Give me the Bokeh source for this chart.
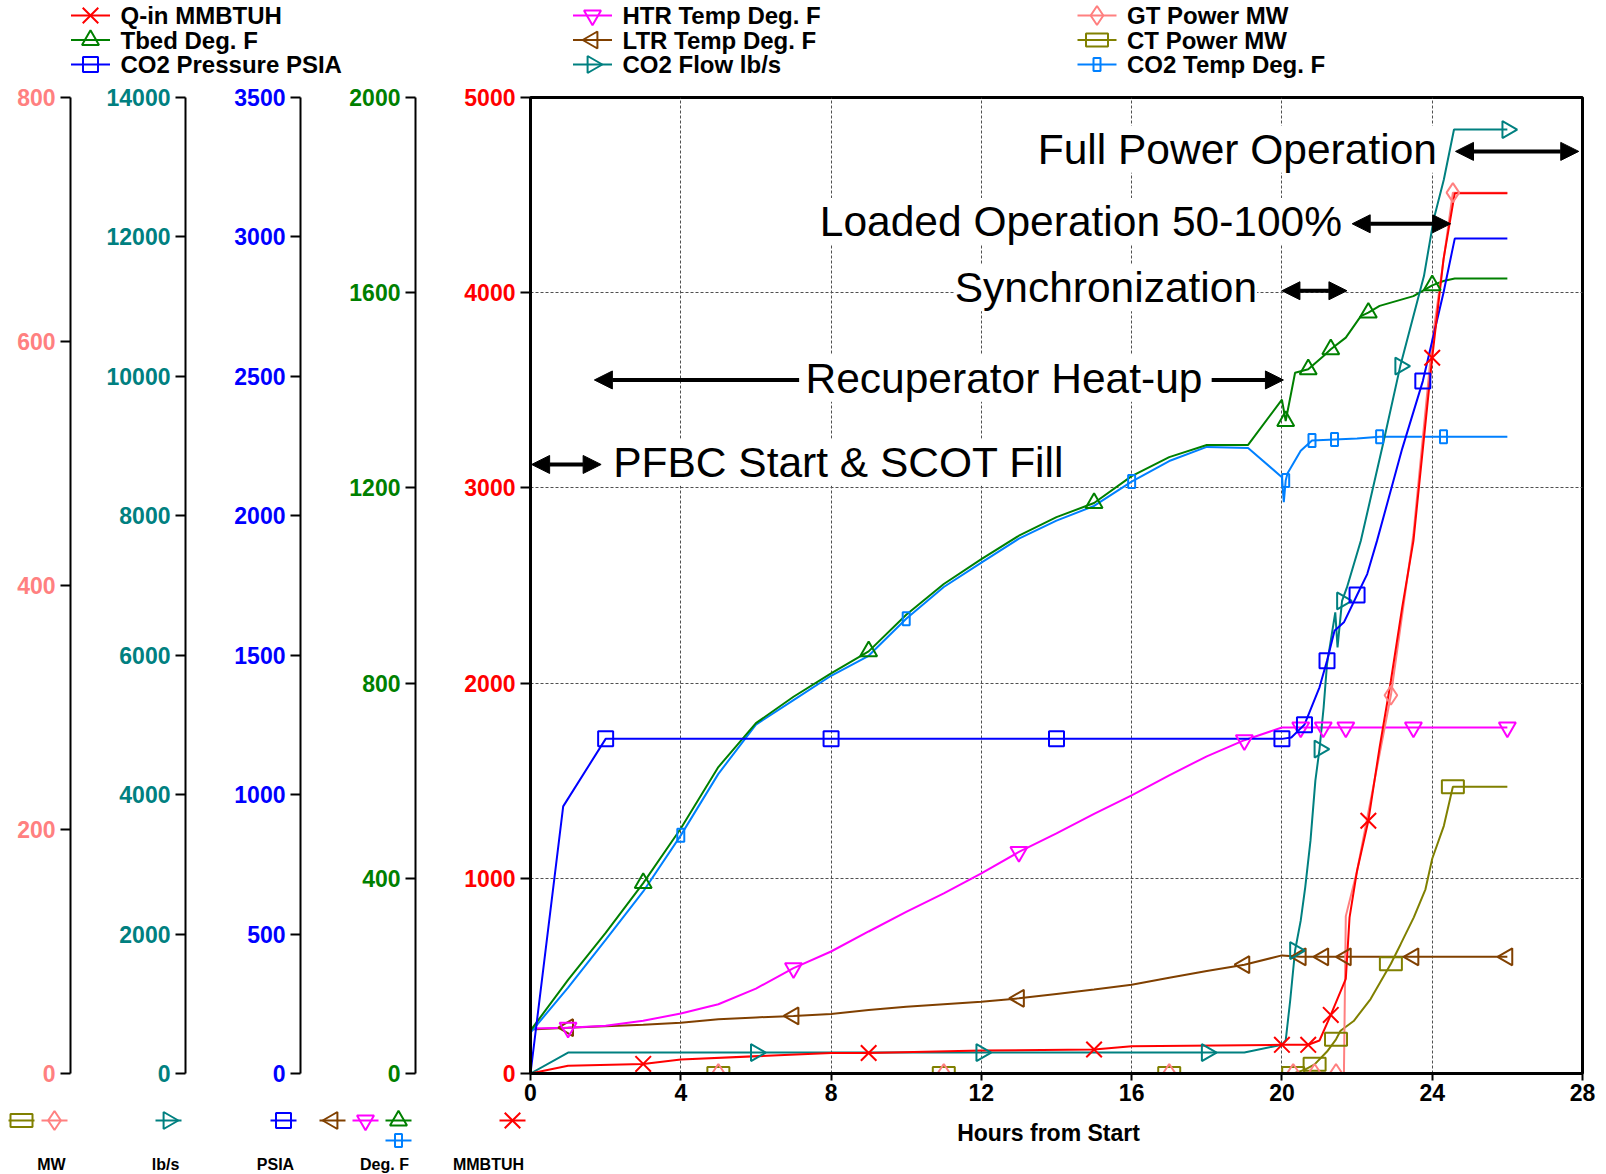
import math
from bokeh.plotting import figure
from bokeh.models import Range1d, LinearAxis, FixedTicker, Label, Arrow, NormalHead
from bokeh.layouts import column
from bokeh.core.properties import value
from bokeh.embed import file_html
from bokeh.resources import INLINE

# ------------------------------------------------------------------ data
hours_ticks = [0, 4, 8, 12, 16, 20, 24, 28]
mmbtuh_ticks = [0, 1000, 2000, 3000, 4000, 5000]
degf_ticks = [0, 400, 800, 1200, 1600, 2000]
psia_ticks = [0, 500, 1000, 1500, 2000, 2500, 3000, 3500]
lbs_ticks = [0, 2000, 4000, 6000, 8000, 10000, 12000, 14000]
mw_ticks = [0, 200, 400, 600, 800]

qin_hr = [0, 1, 3, 4, 6.3, 8, 9, 12, 15, 16, 20, 20.7, 21.0, 21.3, 21.7, 21.8, 22.0, 22.3,
          22.6, 22.9, 23.2, 23.5, 24.0, 24.3, 24.6, 26]
qin_mmbtuh = [0, 40, 49, 72, 91, 105, 105, 118, 123, 140, 147, 147, 169, 300, 485, 800, 1039,
              1295, 1671, 2012, 2387, 2729, 3667, 4171, 4509, 4509]
qin_marks = [3, 9, 15, 20, 20.7, 21.3, 22.3, 24.0]

tbed_hr = [0, 1, 2, 3, 4, 5, 6, 7, 8, 9, 10, 11, 12, 13, 14, 15, 16, 17, 18, 19.1, 20.0, 20.1,
           20.35, 20.7, 21.1, 21.3, 21.7, 22.1, 22.3, 22.6, 23.5, 24.0, 24.3, 24.6, 26]
tbed_degf = [88, 192, 288, 390, 502, 628, 718, 772, 820, 865, 940, 1003, 1054, 1102, 1140, 1169,
             1224, 1263, 1288, 1288, 1381, 1337, 1436, 1443, 1470, 1484, 1508, 1552, 1559, 1573,
             1593, 1615, 1624, 1629, 1629]
tbed_marks = [3, 9, 15, 20.1, 20.7, 21.3, 22.3, 24.0]

pres_hr = [0, 0.87, 2, 8, 14, 20, 20.25, 20.6, 21.0, 21.2, 21.4, 21.65, 22.0, 22.27, 22.53, 23.2,
           23.75, 24.3, 24.6, 26]
pres_psia = [0, 958, 1200, 1200, 1200, 1200, 1205, 1251, 1385, 1480, 1588, 1618, 1716, 1791, 1910,
             2240, 2483, 2800, 2994, 2994]
pres_marks = [2, 8, 14, 20, 20.6, 21.2, 22.0, 23.75]

htr_hr = [0, 1, 2, 3, 4, 5, 6, 7, 8, 9, 10, 11, 12, 13, 14, 15, 16, 17, 18, 19, 20, 20.5, 21.1,
          21.7, 23.5, 26]
htr_degf = [92, 94, 98, 108, 123, 142, 174, 216, 250, 291, 331, 369, 410, 454, 492, 532, 570, 611,
            650, 683, 709, 709, 709, 709, 709, 709]
htr_marks = [1, 7, 13, 19, 20.5, 21.1, 21.7, 23.5, 26]

ltr_hr = [0, 1, 2, 3, 4, 5, 6, 7, 8, 9, 10, 11, 12, 13, 14, 15, 16, 17, 18, 19, 20, 20.5, 21.1,
          21.7, 23.5, 26]
ltr_degf = [90, 94, 97, 100, 104, 111, 115, 118, 122, 130, 137, 142, 147, 154, 163, 172, 182, 196,
            210, 223, 242, 239, 239, 239, 239, 239]
ltr_marks = [1, 7, 13, 19, 20.5, 21.1, 21.7, 23.5, 26]

flow_hr = [0, 1, 6, 12, 18, 19, 20, 20.1, 20.22, 20.35, 20.5, 20.62, 20.76, 20.89, 21.0, 21.11,
           21.2, 21.3, 21.42, 21.48, 21.6, 21.73, 22.1, 22.7, 23.15, 23.78, 24.04, 24.31, 24.58, 26]
flow_lbs = [0, 300, 300, 300, 300, 300, 412, 473, 1047, 1764, 2192, 2671, 3340, 4200, 4654, 5250,
            5872, 6208, 6614, 6112, 6779, 6972, 7641, 9050, 10147, 11438, 12253, 12824, 13540, 13540]
flow_marks = [6, 12, 18, 20.35, 21.0, 21.6, 23.15, 26]

gt_hr = [0, 5, 11, 17, 20.3, 20.87, 21.44, 21.65, 21.7, 22.0, 22.9, 23.5, 24.0, 24.55, 26]
gt_mw = [0, 0, 0, 0, 0, 0, 0, 0, 129, 166, 310, 442, 600, 722, 722]
gt_marks = [5, 11, 17, 20.3, 20.87, 21.44, 22.9, 24.55]

ct_hr = [0, 5, 11, 17, 20.3, 20.6, 20.87, 21.2, 21.44, 21.56, 21.91, 22.36, 22.9, 23.16, 23.51,
         23.82, 24.0, 24.31, 24.55, 26]
ct_mw = [0, 0, 0, 0, 0, 3, 7.5, 18, 28, 35, 43, 61, 90, 106, 128, 151, 176, 203, 235, 235]
ct_marks = [5, 11, 17, 20.3, 20.87, 21.44, 22.9, 24.55]

co2t_hr = [0, 1, 2, 3, 4, 5, 6, 7, 8, 9, 10, 11, 12, 13, 14, 15, 16, 17, 18, 19.1, 20, 20.05,
           20.1, 20.15, 20.5, 20.8, 21.4, 22, 22.6, 24.3, 26]
co2t_degf = [84, 176, 274, 373, 488, 614, 715, 765, 815, 856, 932, 997, 1047, 1096, 1133, 1163,
             1213, 1255, 1284, 1282, 1222, 1171, 1215, 1230, 1276, 1297, 1299, 1301, 1305, 1305, 1305]
co2t_marks = [4, 10, 16, 20.1, 20.8, 21.4, 22.6, 24.3]

series_names = ["Q-in  MMBTUH", "Tbed  Deg. F", "CO2 Pressure  PSIA",
                "HTR Temp  Deg. F", "LTR Temp  Deg. F", "CO2 Flow  lb/s",
                "GT Power  MW", "CT Power  MW", "CO2 Temp  Deg. F"]
unit_names = ["MW", "lb/s", "PSIA", "Deg. F", "MMBTUH"]

phase_texts = ["Full Power Operation", "Loaded Operation 50-100%", "Synchronization",
               "Recuperator Heat-up", "PFBC Start & SCOT Fill"]

# ------------------------------------------------------------------ style
FONT = "Liberation Sans"
W = 1606
RED, GREEN, BLUE = "#FF0000", "#008000", "#0000FF"
MAGENTA, BROWN, TEAL = "#FF00FF", "#804000", "#008080"
SALMON, OLIVE, SKY = "#FF8080", "#808000", "#0080FF"

series = [
    # name, x, y, marks, color, marker kind, range
    (series_names[4], ltr_hr, ltr_degf, ltr_marks, BROWN, "tri_left", "degf"),
    (series_names[3], htr_hr, htr_degf, htr_marks, MAGENTA, "tri_down", "degf"),
    (series_names[8], co2t_hr, co2t_degf, co2t_marks, SKY, "rect_tall", "degf"),
    (series_names[1], tbed_hr, tbed_degf, tbed_marks, GREEN, "tri_up", "degf"),
    (series_names[7], ct_hr, ct_mw, ct_marks, OLIVE, "rect_wide", "mw"),
    (series_names[6], gt_hr, gt_mw, gt_marks, SALMON, "diamond", "mw"),
    (series_names[5], flow_hr, flow_lbs, flow_marks, TEAL, "tri_right", "lbs"),
    (series_names[2], pres_hr, pres_psia, pres_marks, BLUE, "square", "psia"),
    (series_names[0], qin_hr, qin_mmbtuh, qin_marks, RED, "x", "default"),
]


def add_markers(fig, kind, xs, ys, color, **kw):
    common = dict(line_color=color, line_width=2, fill_color=None)
    common.update(kw)
    if kind == "x":
        fig.scatter(xs, ys, marker="x", size=22, **common)
    elif kind == "tri_up":
        fig.scatter(xs, ys, marker="triangle", size=17, **common)
    elif kind == "tri_down":
        fig.scatter(xs, ys, marker="inverted_triangle", size=17, **common)
    elif kind == "tri_left":
        fig.scatter(xs, ys, marker="triangle", angle=math.pi / 2, size=17, **common)
    elif kind == "tri_right":
        fig.scatter(xs, ys, marker="triangle", angle=-math.pi / 2, size=17, **common)
    elif kind == "square":
        fig.scatter(xs, ys, marker="square", size=15, **common)
    elif kind == "diamond":
        fig.scatter(xs, ys, marker="diamond", size=19, **common)
    elif kind == "rect_wide":
        fig.rect(xs, ys, width=22, height=13, width_units="screen", height_units="screen", **common)
    elif kind == "rect_tall":
        fig.rect(xs, ys, width=7, height=13, width_units="screen", height_units="screen", **common)


# ------------------------------------------------------------------ main figure
p = figure(width=W, height=1028, x_range=Range1d(0, 28), y_range=Range1d(0, 5000),
           output_backend="svg", toolbar_location=None, frame_align=False,
           min_border_left=530, min_border_right=24, min_border_top=17, min_border_bottom=35)
p.extra_y_ranges = {"degf": Range1d(0, 2000), "psia": Range1d(0, 3500),
                    "lbs": Range1d(0, 14000), "mw": Range1d(0, 800)}
p.background_fill_color = "white"
p.border_fill_color = "white"
p.outline_line_color = "black"
p.outline_line_width = 3

TICK_FONT = "23px"


def style_y(ax, color, ticks, pad, line_w=2):
    ax.ticker = FixedTicker(ticks=ticks)
    ax.major_label_text_color = color
    ax.major_label_text_font = FONT
    ax.major_label_text_font_style = "bold"
    ax.major_label_text_font_size = TICK_FONT
    ax.major_tick_out = 10
    ax.major_tick_in = 0
    ax.minor_tick_out = 0
    ax.minor_tick_in = 0
    ax.major_label_standoff = 5
    ax.axis_line_color = "black"
    ax.axis_line_width = line_w
    ax.major_tick_line_color = "black"
    ax.major_tick_line_width = 2
    if pad:
        ax.axis_label = " "
        ax.axis_label_standoff = pad
        ax.axis_label_text_font_size = "1px"


style_y(p.yaxis[0], RED, mmbtuh_ticks, 42, line_w=3)
for rng, color, ticks, pad in [("degf", GREEN, degf_ticks, 42),
                               ("psia", BLUE, psia_ticks, 42),
                               ("lbs", TEAL, lbs_ticks, 29),
                               ("mw", SALMON, mw_ticks, 0)]:
    ax = LinearAxis(y_range_name=rng)
    style_y(ax, color, ticks, pad)
    p.add_layout(ax, "left")

xa = p.xaxis[0]
xa.ticker = FixedTicker(ticks=hours_ticks)
xa.major_label_text_font = FONT
xa.major_label_text_font_style = "bold"
xa.major_label_text_font_size = TICK_FONT
xa.major_label_text_color = "black"
xa.major_tick_out = 7
xa.major_tick_in = 0
xa.minor_tick_out = 0
xa.minor_tick_in = 0
xa.major_label_standoff = 3
xa.axis_line_width = 3
xa.major_tick_line_width = 2

p.xgrid.ticker = FixedTicker(ticks=hours_ticks[1:-1])
p.ygrid.ticker = FixedTicker(ticks=mmbtuh_ticks[1:-1])
p.grid.grid_line_color = "#505050"
p.grid.grid_line_dash = "3 2"
p.grid.grid_line_width = 1

# phase labels (white boxes hide the grid, drawn under the data)
phase_pos = [(13.5, 4735), (7.7, 4365), (11.29, 4025), (7.32, 3562), (2.2, 3132)]
for txt, (lx, ly) in zip(phase_texts, phase_pos):
    p.add_layout(Label(x=lx, y=ly, text=txt, text_font=FONT, text_font_size="42.5px",
                       text_color="black", text_baseline="middle", text_align="left",
                       background_fill_color="white", level="underlay"))


def head():
    return NormalHead(size=18, fill_color="black", line_color="black", line_width=1)


arrows = [((24.62, 4724), (27.9, 4724), True),
          ((21.87, 4353), (24.49, 4353), True),
          ((20.0, 4010), (21.73, 4010), True),
          ((18.13, 3553), (20.04, 3553), False),
          ((7.15, 3553), (1.70, 3553), False),
          ((0.03, 3120), (1.88, 3120), True)]
for (x0, y0), (x1, y1), both in arrows:
    p.add_layout(Arrow(x_start=x0, y_start=y0, x_end=x1, y_end=y1,
                       start=head() if both else None, end=head(),
                       line_width=4, line_color="black"))

for name, xs, ys, marks, color, kind, rng in series:
    p.line(xs, ys, line_color=color, line_width=2, y_range_name=rng)
for name, xs, ys, marks, color, kind, rng in series:
    mx = [x for x in xs if x in marks]
    my = [y for x, y in zip(xs, ys) if x in marks]
    add_markers(p, kind, mx, my, color, y_range_name=rng)

# ------------------------------------------------------------------ top legend strip
TH = 80
t = figure(width=W, height=TH, x_range=Range1d(0, W), y_range=Range1d(TH, 0),
           x_axis_type=None, y_axis_type=None, output_backend="svg", frame_align=False,
           toolbar_location=None, min_border=0, outline_line_color=None)
t.background_fill_color = "white"
t.border_fill_color = "white"
legend_cols = [90, 592, 1096.5]
legend_rows = [15, 39.5, 64]
info = {s[0]: s for s in series}
tx, ty, tt = [], [], []
for k, name in enumerate(series_names):
    _, _, _, _, color, kind, _ = info[name]
    cx = legend_cols[k // 3]
    cy = legend_rows[k % 3]
    t.segment(x0=[cx - 19.5], y0=[cy], x1=[cx + 19.5], y1=[cy], line_color=color, line_width=2)
    add_markers(t, kind, [cx], [cy], color)
    tx.append(cx + 30)
    ty.append(cy)
    tt.append(name)
t.text(x=tx, y=ty, text=tt, text_font=value(FONT), text_font_style="bold",
       text_font_size="24px", text_baseline="middle", text_align="left", text_color="black")

# ------------------------------------------------------------------ bottom strip
BH = 66
b = figure(width=W, height=BH, x_range=Range1d(0, W), y_range=Range1d(BH, 0),
           x_axis_type=None, y_axis_type=None, output_backend="svg", frame_align=False,
           toolbar_location=None, min_border=0, outline_line_color=None)
b.background_fill_color = "white"
b.border_fill_color = "white"
key_pos = {series_names[7]: (21, 12), series_names[6]: (54, 12), series_names[5]: (168, 12),
           series_names[2]: (283, 12), series_names[4]: (332, 12), series_names[3]: (365, 12),
           series_names[1]: (398, 12), series_names[8]: (398, 32), series_names[0]: (512, 12)}
for name, (cx, cy) in key_pos.items():
    _, _, _, _, color, kind, _ = info[name]
    b.segment(x0=[cx - 13], y0=[cy], x1=[cx + 13], y1=[cy], line_color=color, line_width=2)
    add_markers(b, kind, [cx], [cy], color)
b.text(x=[51, 165, 275, 384, 488], y=[56] * 5, text=unit_names, text_font=value(FONT),
       text_font_style="bold", text_font_size="16px", text_baseline="middle",
       text_align="center", text_color="black")
b.text(x=[1048], y=[24], text=["Hours from Start"], text_font=value(FONT),
       text_font_style="bold", text_font_size="23px", text_baseline="middle",
       text_align="center", text_color="black")

layout = column(t, p, b, spacing=0)
open("out.html", "w").write(file_html(layout, INLINE))
